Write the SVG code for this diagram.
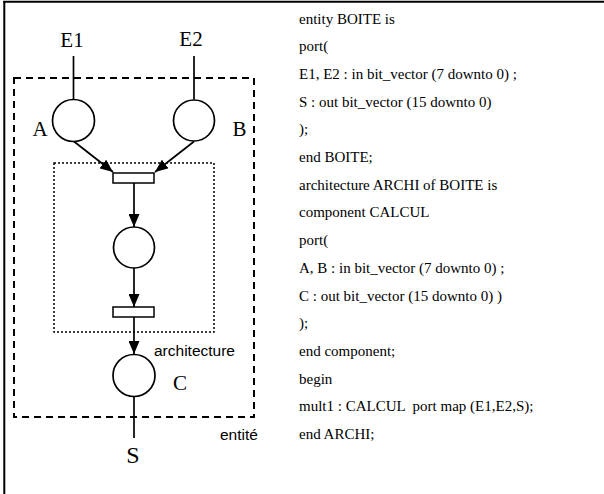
<svg xmlns="http://www.w3.org/2000/svg" width="604" height="494" viewBox="0 0 604 494">
<style>
.frame{stroke:#000;stroke-width:2;fill:none}
.st{stroke:#000;stroke-width:1.7;fill:none}
.place{stroke:#000;stroke-width:1.7;fill:#fff}
.trans{stroke:#000;stroke-width:1.5;fill:#fff}
.dash{stroke:#000;stroke-width:2;fill:none;stroke-dasharray:7,5}
.dot{stroke:#000;stroke-width:1.5;fill:none;stroke-dasharray:2,2}
.lbl{font-family:"Liberation Serif","Times New Roman",serif;font-size:21px;fill:#000}
.sans{font-family:"Liberation Sans",Arial,sans-serif;font-size:15.5px;fill:#000}
.code{font-family:"Liberation Serif","Times New Roman",serif;font-size:15px;fill:#000}
</style>
<defs>
<marker id="ah" markerWidth="13" markerHeight="11" refX="13" refY="5.5" orient="auto" markerUnits="userSpaceOnUse">
<path d="M0,0 L13,5.5 L0,11 Z" fill="#000"/>
</marker>
</defs>
<rect width="604" height="494" fill="#fff"/>
<line class="frame" x1="3.3" y1="1.7" x2="604" y2="1.7"/>
<line class="frame" x1="4.3" y1="1" x2="4.3" y2="494"/>
<rect id="entite" class="dash" x="14" y="78" width="240" height="339"/>
<rect id="architecture" class="dot" x="54" y="163" width="160" height="169"/>
<g id="connectors">
<line class="st" x1="73.5" y1="56" x2="73.5" y2="99.5"/>
<line class="st" x1="194" y1="56" x2="194" y2="99.5"/>
<line class="st" x1="74" y1="141.5" x2="113" y2="172" marker-end="url(#ah)"/>
<line class="st" x1="194" y1="141.5" x2="155" y2="172" marker-end="url(#ah)"/>
<line class="st" x1="134" y1="183" x2="134" y2="227" marker-end="url(#ah)"/>
<line class="st" x1="134" y1="268" x2="134" y2="307" marker-end="url(#ah)"/>
<line class="st" x1="134" y1="317" x2="134" y2="354" marker-end="url(#ah)"/>
<line class="st" x1="134" y1="396.5" x2="134" y2="438"/>
</g>
<g id="A"><circle class="place" cx="73.5" cy="120.5" r="21"/></g>
<g id="B"><circle class="place" cx="194" cy="120.5" r="20.5"/></g>
<g id="T1"><rect class="trans" x="113" y="173" width="41" height="10"/></g>
<g id="P"><circle class="place" cx="134" cy="247.5" r="20.5"/></g>
<g id="T2"><rect class="trans" x="113" y="307" width="41" height="10"/></g>
<g id="C"><circle class="place" cx="134" cy="375.5" r="21"/></g>
<g id="labels">
<text class="lbl" x="72" y="47" text-anchor="middle">E1</text>
<text class="lbl" x="191" y="46" text-anchor="middle">E2</text>
<text class="lbl" x="40" y="136" text-anchor="middle">A</text>
<text class="lbl" x="239.5" y="136" text-anchor="middle">B</text>
<text class="lbl" x="180" y="390" text-anchor="middle">C</text>
<text class="lbl" x="133" y="463" text-anchor="middle" style="font-size:24px">S</text>
<text class="sans" x="154" y="356">architecture</text>
<text class="sans" x="220" y="440">entité</text>
</g>
<g id="code" class="code">
<text x="299" y="23.5">entity BOITE is</text>
<text x="299" y="51.2">port(</text>
<text x="299" y="78.9">E1, E2 : in bit_vector (7 downto 0) ;</text>
<text x="299" y="106.6">S : out bit_vector (15 downto 0)</text>
<text x="299" y="134.3">);</text>
<text x="299" y="162">end BOITE;</text>
<text x="299" y="189.7">architecture ARCHI of BOITE is</text>
<text x="299" y="217.4">component CALCUL</text>
<text x="299" y="245.1">port(</text>
<text x="299" y="272.8">A, B : in bit_vector (7 downto 0) ;</text>
<text x="299" y="300.5">C : out bit_vector (15 downto 0) )</text>
<text x="299" y="328.2">);</text>
<text x="299" y="355.9">end component;</text>
<text x="299" y="383.6">begin</text>
<text x="299" y="411.3" xml:space="preserve">mult1 : CALCUL  port map (E1,E2,S);</text>
<text x="299" y="439">end ARCHI;</text>
</g>
</svg>
